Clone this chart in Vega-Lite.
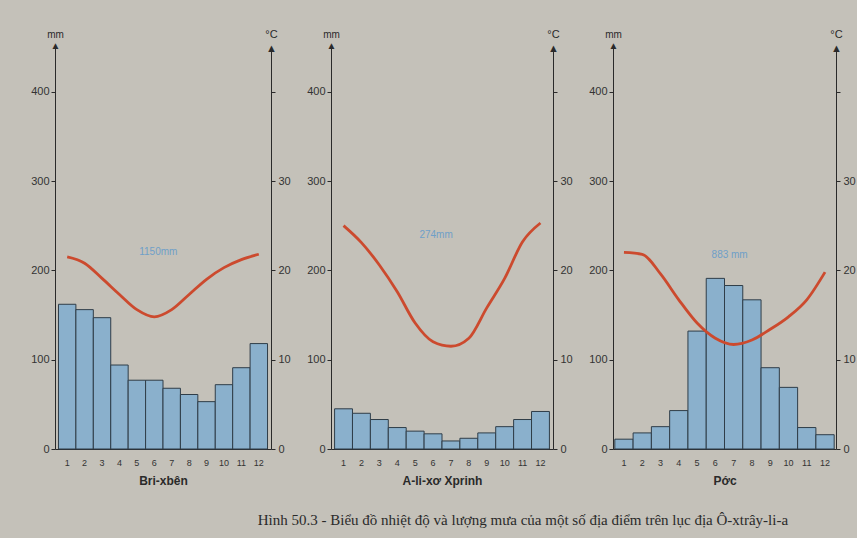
{
  "$schema": "https://vega.github.io/schema/vega-lite/v6.json",
  "background": "#c4c1b9",
  "padding": {"left": 30, "top": 28, "right": 10, "bottom": 10},
  "config": {
    "view": {"stroke": null},
    "font": "Liberation Sans",
    "axis": {"grid": false, "domainColor": "#2a2a2a", "tickColor": "#2a2a2a", "labelColor": "#333333", "titleColor": "#2a2a2a"}
  },
  "title": {
    "text": "Hình 50.3 - Biểu đồ nhiệt độ và lượng mưa của một số địa điểm trên lục địa Ô-xtrây-li-a",
    "orient": "bottom", "anchor": "middle", "font": "Liberation Serif", "fontSize": 15, "fontWeight": "normal", "color": "#2a2a2a", "offset": 27, "dx": 80
  },
  "datasets": {
    "climate": [
      {"station": "Bri-xbên", "month": 1, "rain": 162, "temp": 21.5},
      {"station": "Bri-xbên", "month": 2, "rain": 156, "temp": 20.8},
      {"station": "Bri-xbên", "month": 3, "rain": 147, "temp": 19.1},
      {"station": "Bri-xbên", "month": 4, "rain": 94, "temp": 17.3},
      {"station": "Bri-xbên", "month": 5, "rain": 77, "temp": 15.6},
      {"station": "Bri-xbên", "month": 6, "rain": 77, "temp": 14.8},
      {"station": "Bri-xbên", "month": 7, "rain": 68, "temp": 15.6},
      {"station": "Bri-xbên", "month": 8, "rain": 61, "temp": 17.3},
      {"station": "Bri-xbên", "month": 9, "rain": 53, "temp": 19.0},
      {"station": "Bri-xbên", "month": 10, "rain": 72, "temp": 20.3},
      {"station": "Bri-xbên", "month": 11, "rain": 91, "temp": 21.2},
      {"station": "Bri-xbên", "month": 12, "rain": 118, "temp": 21.8},
      {"station": "A-li-xơ Xprinh", "month": 1, "rain": 45, "temp": 25.0},
      {"station": "A-li-xơ Xprinh", "month": 2, "rain": 40, "temp": 23.1},
      {"station": "A-li-xơ Xprinh", "month": 3, "rain": 33, "temp": 20.6},
      {"station": "A-li-xơ Xprinh", "month": 4, "rain": 24, "temp": 17.6},
      {"station": "A-li-xơ Xprinh", "month": 5, "rain": 20, "temp": 14.1},
      {"station": "A-li-xơ Xprinh", "month": 6, "rain": 17, "temp": 12.0},
      {"station": "A-li-xơ Xprinh", "month": 7, "rain": 9, "temp": 11.5},
      {"station": "A-li-xơ Xprinh", "month": 8, "rain": 12, "temp": 12.4},
      {"station": "A-li-xơ Xprinh", "month": 9, "rain": 18, "temp": 15.8},
      {"station": "A-li-xơ Xprinh", "month": 10, "rain": 25, "temp": 19.1},
      {"station": "A-li-xơ Xprinh", "month": 11, "rain": 33, "temp": 23.2},
      {"station": "A-li-xơ Xprinh", "month": 12, "rain": 42, "temp": 25.3},
      {"station": "Pớc", "month": 1, "rain": 11, "temp": 22.0},
      {"station": "Pớc", "month": 2, "rain": 18, "temp": 21.8},
      {"station": "Pớc", "month": 3, "rain": 25, "temp": 19.6},
      {"station": "Pớc", "month": 4, "rain": 43, "temp": 16.7},
      {"station": "Pớc", "month": 5, "rain": 132, "temp": 14.1},
      {"station": "Pớc", "month": 6, "rain": 191, "temp": 12.4},
      {"station": "Pớc", "month": 7, "rain": 183, "temp": 11.7},
      {"station": "Pớc", "month": 8, "rain": 167, "temp": 12.2},
      {"station": "Pớc", "month": 9, "rain": 91, "temp": 13.4},
      {"station": "Pớc", "month": 10, "rain": 69, "temp": 14.8},
      {"station": "Pớc", "month": 11, "rain": 24, "temp": 16.7},
      {"station": "Pớc", "month": 12, "rain": 16, "temp": 19.8}
    ],
    "labels": [
      {"station": "Bri-xbên", "month": 6, "ypos": 220, "label": "1150mm"},
      {"station": "A-li-xơ Xprinh", "month": 6, "ypos": 240, "label": "274mm"},
      {"station": "Pớc", "month": 7, "ypos": 217, "label": "883 mm"}
    ]
  },
  "bounds": "flush",
  "spacing": 60,
  "hconcat": [
    {
      "width": 216, "height": 402,
      "resolve": {"scale": {"y": "independent"}},
      "layer": [
        {
          "data": {"name": "climate"},
          "transform": [{"filter": "datum.station == 'Bri-xbên'"}],
          "mark": {"type": "bar", "fill": "#8ab0cc", "stroke": "#2f3d48", "strokeWidth": 1},
          "encoding": {
            "x": {"field": "month", "type": "ordinal", "scale": {"paddingInner": 0, "paddingOuter": 0.2}, "title": "Bri-xbên",
              "axis": {"labelAngle": 0, "ticks": false, "labelFontSize": 9, "labelPadding": 9, "titleFontSize": 12, "titleFontWeight": "bold", "titlePadding": 8}},
            "y": {"field": "rain", "type": "quantitative", "scale": {"domain": [0, 450], "nice": false},
              "axis": {"values": [0, 100, 200, 300, 400], "tickSize": 4, "labelFontSize": 11, "labelPadding": 2, "title": ["mm", "▲"], "titleAngle": 0, "titleX": 0, "titleY": -8, "titleAlign": "center", "titleBaseline": "bottom", "titleFontSize": 10, "titleFontWeight": "normal", "titleLineHeight": 11}}
          }
        },
        {
          "data": {"name": "climate"},
          "transform": [{"filter": "datum.station == 'Bri-xbên'"}],
          "mark": {"type": "line", "color": "#cc4a2e", "strokeWidth": 2.8, "interpolate": "monotone"},
          "encoding": {
            "x": {"field": "month", "type": "ordinal"},
            "y": {"field": "temp", "type": "quantitative", "scale": {"domain": [0, 45], "nice": false},
              "axis": {"orient": "right", "values": [0, 10, 20, 30, 40], "labelExpr": "datum.value == 40 ? '' : datum.label", "tickSize": 4, "labelFontSize": 11, "labelPadding": 3, "title": ["°C", "▲"], "titleAngle": 0, "titleX": 0, "titleY": -8, "titleAlign": "center", "titleBaseline": "bottom", "titleFontSize": 11, "titleFontWeight": "normal", "titleLineHeight": 14}}
          }
        },
        {
          "data": {"name": "labels"},
          "transform": [{"filter": "datum.station == 'Bri-xbên'"}],
          "mark": {"type": "text", "color": "#6f9fc8", "fontSize": 10, "dx": 4},
          "encoding": {
            "x": {"field": "month", "type": "ordinal"},
            "y": {"field": "ypos", "type": "quantitative", "scale": {"domain": [0, 450], "nice": false}, "axis": null},
            "text": {"field": "label"}
          }
        }
      ]
    },
    {
      "width": 222, "height": 402,
      "resolve": {"scale": {"y": "independent"}},
      "layer": [
        {
          "data": {"name": "climate"},
          "transform": [{"filter": "datum.station == 'A-li-xơ Xprinh'"}],
          "mark": {"type": "bar", "fill": "#8ab0cc", "stroke": "#2f3d48", "strokeWidth": 1},
          "encoding": {
            "x": {"field": "month", "type": "ordinal", "scale": {"paddingInner": 0, "paddingOuter": 0.2}, "title": "A-li-xơ Xprinh",
              "axis": {"labelAngle": 0, "ticks": false, "labelFontSize": 9, "labelPadding": 9, "titleFontSize": 12, "titleFontWeight": "bold", "titlePadding": 8}},
            "y": {"field": "rain", "type": "quantitative", "scale": {"domain": [0, 450], "nice": false},
              "axis": {"values": [0, 100, 200, 300, 400], "tickSize": 4, "labelFontSize": 11, "labelPadding": 2, "title": ["mm", "▲"], "titleAngle": 0, "titleX": 0, "titleY": -8, "titleAlign": "center", "titleBaseline": "bottom", "titleFontSize": 10, "titleFontWeight": "normal", "titleLineHeight": 11}}
          }
        },
        {
          "data": {"name": "climate"},
          "transform": [{"filter": "datum.station == 'A-li-xơ Xprinh'"}],
          "mark": {"type": "line", "color": "#cc4a2e", "strokeWidth": 2.8, "interpolate": "monotone"},
          "encoding": {
            "x": {"field": "month", "type": "ordinal"},
            "y": {"field": "temp", "type": "quantitative", "scale": {"domain": [0, 45], "nice": false},
              "axis": {"orient": "right", "values": [0, 10, 20, 30, 40], "labelExpr": "datum.value == 40 ? '' : datum.label", "tickSize": 4, "labelFontSize": 11, "labelPadding": 3, "title": ["°C", "▲"], "titleAngle": 0, "titleX": 0, "titleY": -8, "titleAlign": "center", "titleBaseline": "bottom", "titleFontSize": 11, "titleFontWeight": "normal", "titleLineHeight": 14}}
          }
        },
        {
          "data": {"name": "labels"},
          "transform": [{"filter": "datum.station == 'A-li-xơ Xprinh'"}],
          "mark": {"type": "text", "color": "#6f9fc8", "fontSize": 10, "dx": 3},
          "encoding": {
            "x": {"field": "month", "type": "ordinal"},
            "y": {"field": "ypos", "type": "quantitative", "scale": {"domain": [0, 450], "nice": false}, "axis": null},
            "text": {"field": "label"}
          }
        }
      ]
    },
    {
      "width": 223, "height": 402,
      "resolve": {"scale": {"y": "independent"}},
      "layer": [
        {
          "data": {"name": "climate"},
          "transform": [{"filter": "datum.station == 'Pớc'"}],
          "mark": {"type": "bar", "fill": "#8ab0cc", "stroke": "#2f3d48", "strokeWidth": 1},
          "encoding": {
            "x": {"field": "month", "type": "ordinal", "scale": {"paddingInner": 0, "paddingOuter": 0.1}, "title": "Pớc",
              "axis": {"labelAngle": 0, "ticks": false, "labelFontSize": 9, "labelPadding": 9, "titleFontSize": 12, "titleFontWeight": "bold", "titlePadding": 8}},
            "y": {"field": "rain", "type": "quantitative", "scale": {"domain": [0, 450], "nice": false},
              "axis": {"values": [0, 100, 200, 300, 400], "tickSize": 4, "labelFontSize": 11, "labelPadding": 2, "title": ["mm", "▲"], "titleAngle": 0, "titleX": 0, "titleY": -8, "titleAlign": "center", "titleBaseline": "bottom", "titleFontSize": 10, "titleFontWeight": "normal", "titleLineHeight": 11}}
          }
        },
        {
          "data": {"name": "climate"},
          "transform": [{"filter": "datum.station == 'Pớc'"}],
          "mark": {"type": "line", "color": "#cc4a2e", "strokeWidth": 2.8, "interpolate": "monotone"},
          "encoding": {
            "x": {"field": "month", "type": "ordinal"},
            "y": {"field": "temp", "type": "quantitative", "scale": {"domain": [0, 45], "nice": false},
              "axis": {"orient": "right", "values": [0, 10, 20, 30, 40], "labelExpr": "datum.value == 40 ? '' : datum.label", "tickSize": 4, "labelFontSize": 11, "labelPadding": 3, "title": ["°C", "▲"], "titleAngle": 0, "titleX": 0, "titleY": -8, "titleAlign": "center", "titleBaseline": "bottom", "titleFontSize": 11, "titleFontWeight": "normal", "titleLineHeight": 14}}
          }
        },
        {
          "data": {"name": "labels"},
          "transform": [{"filter": "datum.station == 'Pớc'"}],
          "mark": {"type": "text", "color": "#6f9fc8", "fontSize": 10, "dx": -4},
          "encoding": {
            "x": {"field": "month", "type": "ordinal"},
            "y": {"field": "ypos", "type": "quantitative", "scale": {"domain": [0, 450], "nice": false}, "axis": null},
            "text": {"field": "label"}
          }
        }
      ]
    }
  ]
}
